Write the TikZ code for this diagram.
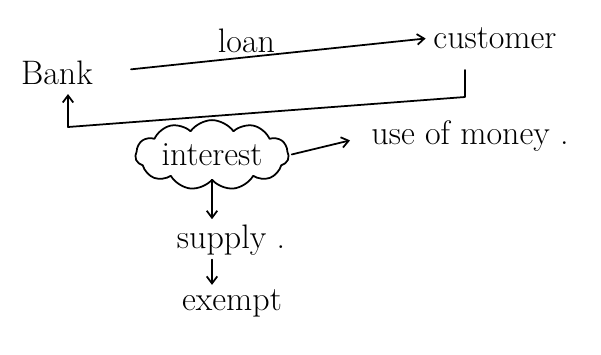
\documentclass[tikz,border=0pt]{standalone}
\usepackage{amsmath}
\usepackage{tikz}
\usetikzlibrary{arrows.meta,positioning,shapes.symbols}

\begin{document}
\begin{tikzpicture}[x=0.03cm,y=-0.03cm,>={Straight Barb[length=6pt,width=9pt]},
                    line width=1.5pt,line cap=round,line join=round,
                    word/.style={font=\fontsize{29}{34}\selectfont,inner sep=2pt},
                    puff/.style={word,cloud,cloud puffs=11,cloud puff arc=110,aspect=2.8,
                                 draw,minimum width=4.6cm,minimum height=1.7cm,inner sep=0pt}]
  \useasboundingbox (0,0) rectangle (601,354);
  \node[word] (bank) at (57,73) {Bank};
  \node[word] (cust) at (495,38) {customer};
  \node[puff] (int) at (212,155) {interest};
  \node[word] (money) at (470,136) {use of money .};
  \node[word] (supply) at (231,240) {supply .};
  \node[word] (exempt) at (232,303) {exempt};
  \coordinate (r0) at (465,70);
  \coordinate (r1) at (465,97);
  \coordinate (r2) at (68,127);
  \draw[->,shorten <=30pt,shorten >=4pt] (bank.east) -- (cust.west)
        node[word,pos=0.45,above=1pt] {loan};
  \draw[->,shorten >=5pt] (r0) -- (r1) -- (r2) -- (r2 |- bank.south);
  \draw[->,shorten <=2pt,shorten >=16pt] (int.east) -- (money.west);
  \draw[->,shorten >=2pt] (int.south) -- (int.south |- supply.north);
  \draw[->,shorten <=1pt,shorten >=1pt] (int.south |- supply.south) -- (int.south |- exempt.north);
\end{tikzpicture}
\end{document}
